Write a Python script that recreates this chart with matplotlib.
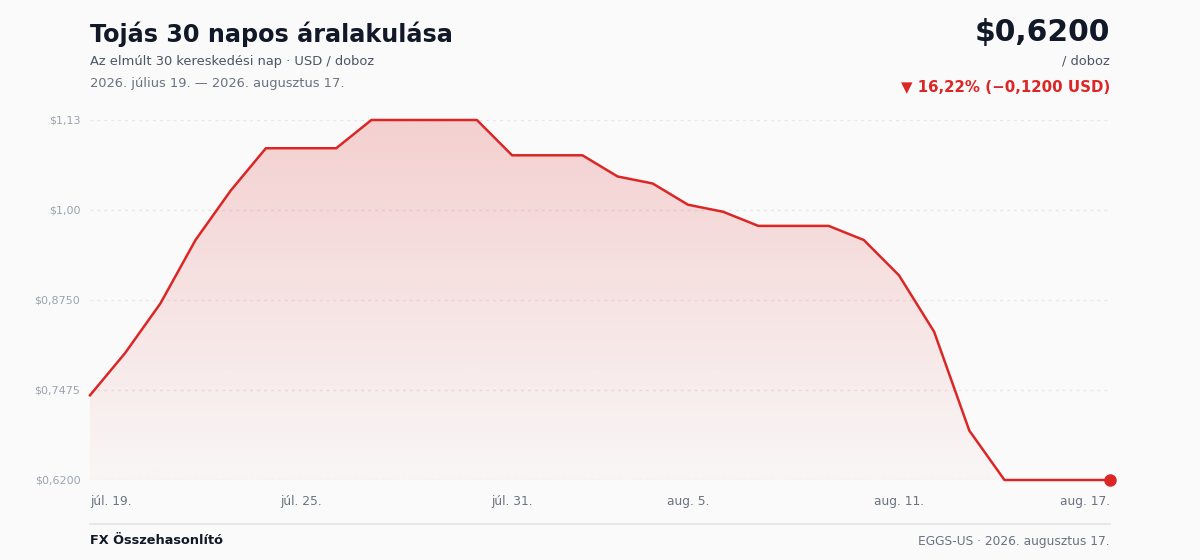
import matplotlib
matplotlib.use("Agg")
import matplotlib.pyplot as plt
import numpy as np
from matplotlib.patches import Polygon

# napi árak (USD / doboz), 2026. júl. 19. - aug. 17.
days = list(range(30))
prices = [0.74, 0.80, 0.87, 0.96, 1.03, 1.09, 1.09, 1.09, 1.13, 1.13,
          1.13, 1.13, 1.08, 1.08, 1.08, 1.05, 1.04, 1.01, 1.00, 0.98,
          0.98, 0.98, 0.96, 0.91, 0.83, 0.69, 0.62, 0.62, 0.62, 0.62]
xtick_pos = [0, 6, 12, 17, 23, 29]
xtick_labels = ["júl. 19.", "júl. 25.", "júl. 31.", "aug. 5.", "aug. 11.", "aug. 17."]
ytick_pos = [0.62, 0.7475, 0.875, 1.0025, 1.13]
ytick_labels = ["$0,6200", "$0,7475", "$0,8750", "$1,00", "$1,13"]

RED = "#dc2626"
BG = "#fafafa"
plt.rcParams['font.family'] = ['DejaVu Sans']

fig = plt.figure(figsize=(12, 5.6), dpi=100, facecolor=BG)
ax = fig.add_axes([0.075, 1 - 480 / 560, 0.85, 360 / 560])
ax.set_facecolor(BG)
ax.set_xlim(0, 29)
ax.set_ylim(0.62, 1.13)

# gradient kitöltés a vonal alatt
grad = np.zeros((256, 1, 4))
rgb = matplotlib.colors.to_rgb(RED)
grad[:, 0, 0] = rgb[0]
grad[:, 0, 1] = rgb[1]
grad[:, 0, 2] = rgb[2]
grad[:, 0, 3] = np.linspace(0.2, 0.02, 256)
img = ax.imshow(grad, aspect='auto', extent=(0, 29, 0.62, 1.13), origin='upper', zorder=1)
verts = [(0, 0.62)] + list(zip(days, prices)) + [(29, 0.62)]
poly = Polygon(verts, closed=True, facecolor='none', edgecolor='none')
ax.add_patch(poly)
img.set_clip_path(poly)

ax.plot(days, prices, color=RED, lw=1.8, zorder=3, clip_on=False)
ax.plot([days[-1]], [prices[-1]], 'o', color=RED, ms=8, zorder=4, clip_on=False)

for y in ytick_pos:
    ax.axhline(y, color="#e5e7eb", lw=1, ls=(0, (2, 3)), zorder=0)

for s in ax.spines.values():
    s.set_visible(False)
ax.set_yticks(ytick_pos)
ax.set_yticklabels(ytick_labels, fontsize=8, color="#9ca3af")
ax.set_xticks(xtick_pos)
ax.set_xticklabels(xtick_labels, fontsize=8.8, color="#6b7280")
ax.tick_params(axis='y', length=0, pad=7)
ax.tick_params(axis='x', length=0, pad=11)
tl = ax.get_xticklabels()
tl[0].set_ha('left')
tl[-1].set_ha('right')

# fejléc
def px(x, y):
    return x / 1200, 1 - y / 560

fig.text(*px(90, 34), "Tojás 30 napos áralakulása", fontsize=17.2, fontweight='bold',
         color="#111827", va='center', ha='left')
fig.text(*px(90, 61), "Az elmúlt 30 kereskedési nap · USD / doboz", fontsize=9.4,
         color="#4b5563", va='center', ha='left')
fig.text(*px(90, 83), "2026. július 19. — 2026. augusztus 17.", fontsize=9.4,
         color="#6b7280", va='center', ha='left')
fig.text(*px(1110, 32), "$0,6200", fontsize=21.4, fontweight='bold',
         color="#111827", va='center', ha='right')
fig.text(*px(1110, 61), "/ doboz", fontsize=9.4, color="#4b5563", va='center', ha='right')
fig.text(*px(1110, 87), "▼ 16,22% (−0,1200 USD)", fontsize=10.8, fontweight='bold',
         color=RED, va='center', ha='right')

# lábléc
fig.add_artist(plt.Line2D([90 / 1200, 1110 / 1200], [1 - 524 / 560] * 2,
                          color="#e5e7eb", lw=1.5))
fig.text(*px(90, 541), "FX Összehasonlító", fontsize=9.3, fontweight='bold',
         color="#111827", va='center', ha='left')
fig.text(*px(1110, 541), "EGGS-US · 2026. augusztus 17.", fontsize=8.8,
         color="#6b7280", va='center', ha='right')

fig.savefig("out.png", dpi=100, facecolor=BG)
